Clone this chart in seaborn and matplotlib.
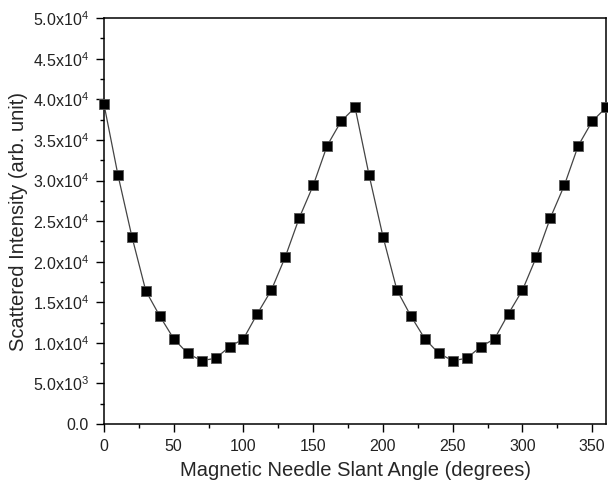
import numpy as np
import pandas as pd
import seaborn as sns
import matplotlib.pyplot as plt
from matplotlib.ticker import MultipleLocator, FuncFormatter

# angle of the needle and the scattered intensity
angles = [0, 10, 20, 30, 40, 50, 60, 70, 80, 90, 100, 110, 120, 130, 140, 150, 160, 170, 180,
          190, 200, 210, 220, 230, 240, 250, 260, 270, 280, 290, 300, 310, 320, 330, 340, 350, 360]
intensity = [39400, 30700, 23100, 16400, 13300, 10500, 8700, 7800, 8100, 9500, 10500, 13600, 16500,
             20600, 25400, 29400, 34300, 37300, 39000,
             30700, 23100, 16500, 13300, 10500, 8700, 7800, 8100, 9500, 10500, 13600, 16500,
             20600, 25400, 29400, 34300, 37300, 39000]

df = pd.DataFrame({'angle': angles, 'intensity': intensity})

sns.set_style('white')
plt.rcParams['font.family'] = ['Liberation Sans', 'DejaVu Sans']
plt.rcParams['mathtext.fontset'] = 'custom'
plt.rcParams['mathtext.rm'] = 'Liberation Sans'
plt.rcParams['mathtext.it'] = 'Liberation Sans'

fig = plt.figure(figsize=(6.08, 4.86), dpi=100)
ax = fig.add_axes([0.171, 0.1276, 0.826, 0.835])

sns.lineplot(data=df, x='angle', y='intensity', color='#444444', linewidth=0.9, ax=ax)
sns.scatterplot(data=df, x='angle', y='intensity', marker='s', s=55, color='black',
                edgecolor='#555555', linewidth=0.6, ax=ax, zorder=3, clip_on=False)

ax.set_xlim(0, 360)
ax.set_ylim(0, 50000)
ax.xaxis.set_major_locator(MultipleLocator(50))
ax.xaxis.set_minor_locator(MultipleLocator(25))
ax.yaxis.set_major_locator(MultipleLocator(5000))
ax.yaxis.set_minor_locator(MultipleLocator(2500))


def sci(v, pos):
    if v <= 0:
        return '0.0'
    e = int(np.floor(np.log10(v)))
    return '%.1fx10$^{%d}$' % (v / 10 ** e, e)


ax.yaxis.set_major_formatter(FuncFormatter(sci))
ax.tick_params(which='both', direction='out', bottom=True, left=True, top=False, right=False,
               color='black', labelsize=11.5, labelcolor='#222222')
ax.tick_params(which='major', length=6, width=1, pad=5)
ax.tick_params(which='minor', length=3, width=1)
for s in ax.spines.values():
    s.set_color('black')
    s.set_linewidth(1.1)

ax.set_xlabel('Magnetic Needle Slant Angle (degrees)', fontsize=14.5, labelpad=5)
ax.set_ylabel('Scattered Intensity (arb. unit)', fontsize=14.5, labelpad=3)

fig.savefig('out.png', dpi=100)
